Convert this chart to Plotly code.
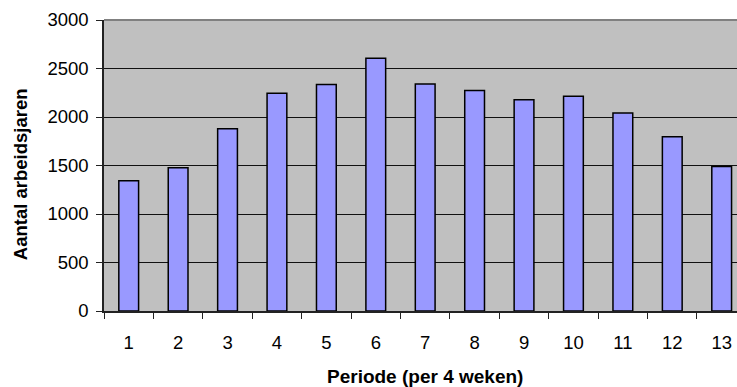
import plotly.graph_objects as go

periods = ["1", "2", "3", "4", "5", "6", "7", "8", "9", "10", "11", "12", "13"]
values = [1343, 1477, 1880, 2244, 2334, 2606, 2341, 2272, 2179, 2213, 2042, 1797, 1490]
y_ticks = [0, 500, 1000, 1500, 2000, 2500, 3000]

FONT = "Liberation Sans, Arial, sans-serif"

fig = go.Figure()
fig.add_trace(go.Bar(
    x=periods, y=values,
    marker=dict(color="#9999FF", line=dict(color="#000000", width=1.5)),
    width=0.4,
))

fig.update_layout(
    width=737, height=387,
    margin=dict(l=104, r=0, t=20, b=76),
    paper_bgcolor="white",
    plot_bgcolor="#C0C0C0",
    showlegend=False,
    font=dict(family=FONT, size=18, color="#000000"),
    xaxis=dict(
        type="category",
        range=[-0.5, 12.31],
        tickson="boundaries",
        ticks="outside", ticklen=6, tickcolor="#222222", tickwidth=1,
        showgrid=False,
        showline=True, linecolor="#222222", linewidth=1.5,
        tickfont=dict(size=18.5),
        ticklabelstandoff=14,
    ),
    yaxis=dict(
        range=[0, 3000],
        tickvals=y_ticks,
        ticks="outside", ticklen=6, tickcolor="#222222", tickwidth=1,
        showgrid=True, gridcolor="#111111", gridwidth=1,
        showline=True, linecolor="#222222", linewidth=1.5,
        zeroline=False,
        tickfont=dict(size=18.5),
        ticklabelstandoff=4,
    ),
    shapes=[dict(type="line", xref="paper", yref="paper", x0=0, x1=1, y0=1, y1=1,
                 line=dict(color="#808080", width=2))],
    annotations=[
        dict(text="<b>Periode (per 4 weken)</b>", xref="x", yref="paper",
             x=6, y=0, yshift=-65, showarrow=False, yanchor="middle",
             font=dict(size=19, family=FONT)),
        dict(text="<b>Aantal arbeidsjaren</b>", xref="paper", yref="paper",
             x=0, xshift=-84, y=0.47, showarrow=False, textangle=-90,
             xanchor="center", yanchor="middle",
             font=dict(size=18.5, family=FONT)),
    ],
)

fig.write_html("out.html")
